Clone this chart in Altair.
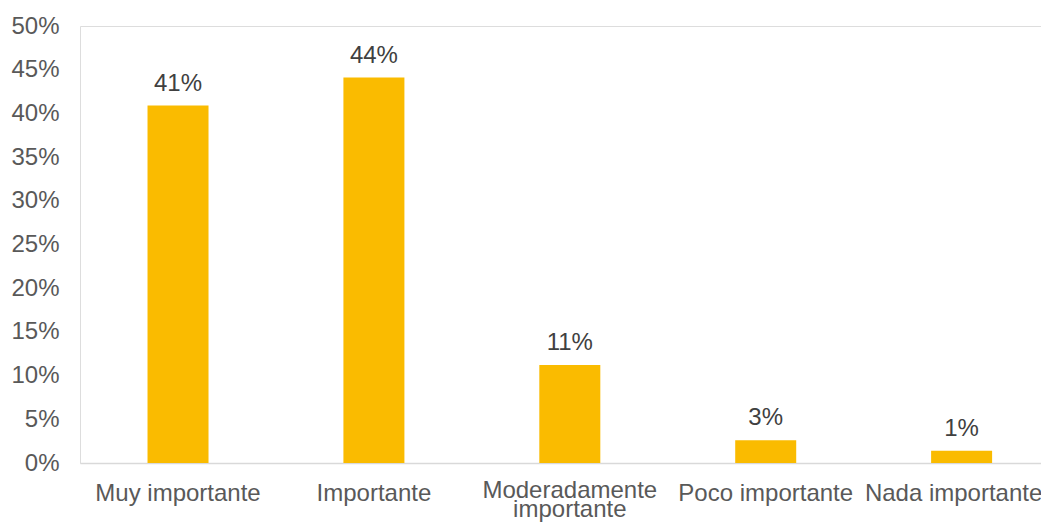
import altair as alt
import pandas as pd

categories = ["Muy importante", "Importante", "Moderadamente importante", "Poco importante", "Nada importante"]
values = [0.409, 0.441, 0.112, 0.026, 0.014]
y_ticks = [0, 0.05, 0.10, 0.15, 0.20, 0.25, 0.30, 0.35, 0.40, 0.45, 0.50]

df = pd.DataFrame({"cat": categories, "val": values})

FONT = "Liberation Sans"
GRAY = "#595959"

x = alt.X(
    "cat:N",
    sort=categories,
    title=None,
    scale=alt.Scale(paddingInner=0.6886, paddingOuter=0.2971, align=0.58),
    axis=alt.Axis(
        labelAngle=0,
        labelFontSize=24,
        labelColor=GRAY,
        labelFont=FONT,
        labelPadding=alt.condition("datum.label == 'Moderadamente importante'", alt.value(15), alt.value(18)),
        labelLineHeight=19,
        labelOffset=alt.condition("datum.label == 'Nada importante'", alt.value(-8), alt.value(0)),
        ticks=False,
        domainColor="#d9d9d9",
        domainWidth=1.5,
        labelExpr="datum.label == 'Moderadamente importante' ? ['Moderadamente', 'importante'] : datum.label",
    ),
)
y = alt.Y(
    "val:Q",
    title=None,
    scale=alt.Scale(domain=[0, 0.5], nice=False),
    axis=alt.Axis(
        values=y_ticks,
        format=".0%",
        labelFontSize=24,
        labelColor=GRAY,
        labelFont=FONT,
        labelPadding=21,
        ticks=False,
        domain=False,
        grid=False,
    ),
)

bars = alt.Chart(df).mark_bar(color="#FABB00").encode(x=x, y=y)
labels = alt.Chart(df).mark_text(
    baseline="alphabetic", dy=-15, fontSize=24, color="#404040", font=FONT
).encode(x=x, y=y, text=alt.Text("val:Q", format=".0%"))

chart = (
    alt.layer(bars, labels)
    .properties(
        width=961,
        height=437,
        autosize=alt.AutoSizeParams(type="none"),
        padding={"left": 72, "top": 18, "right": 0, "bottom": 59},
    )
    .configure_view(stroke=None)
    .configure(background="white")
)

chart.save("out.html", embed_options={"renderer": "svg", "actions": False})
